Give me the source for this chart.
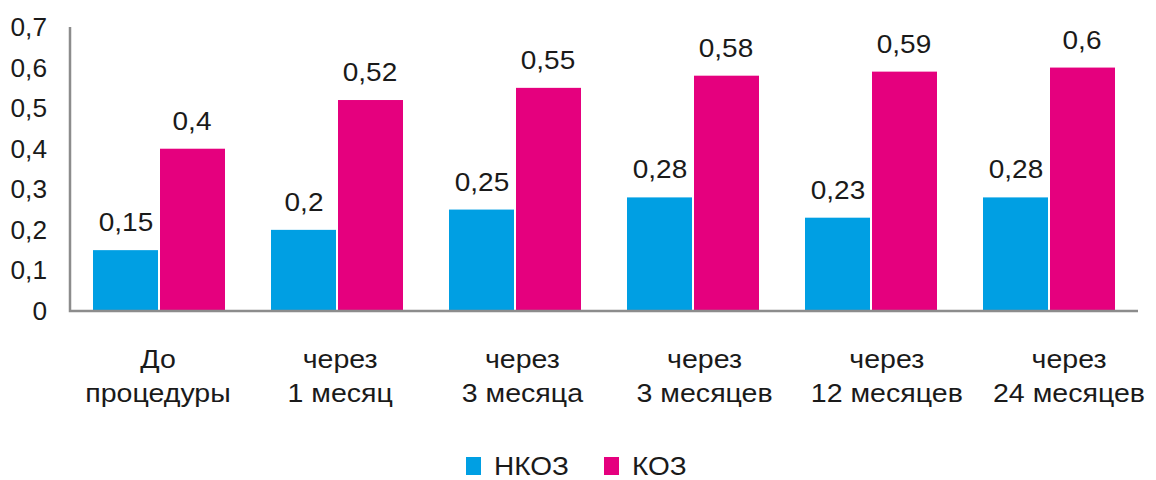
<!DOCTYPE html>
<html>
<head>
<meta charset="utf-8">
<script src="https://cdn.jsdelivr.net/npm/d3@7"></script>
<style>
  body { margin: 0; background: #fff; overflow: hidden; }
  svg { display: block; }
  svg text { font-family: "Liberation Sans", Arial, sans-serif; fill: #1a1a1a; }
</style>
</head>
<body>
<div id="chart"></div>
<script>
var categories = [
  ["До", "процедуры"],
  ["через", "1 месяц"],
  ["через", "3 месяца"],
  ["через", "3 месяцев"],
  ["через", "12 месяцев"],
  ["через", "24 месяцев"]
];
var seriesNames = ["НКОЗ", "КОЗ"];
var nkozValues = [0.15, 0.2, 0.25, 0.28, 0.23, 0.28];
var kozValues = [0.4, 0.52, 0.55, 0.58, 0.59, 0.6];
var yTicks = [0, 0.1, 0.2, 0.3, 0.4, 0.5, 0.6, 0.7];

var width = 1156,
  height = 480;
var margin = { top: 27, right: 18, bottom: 169, left: 70 };
var colors = ["#009fe3", "#e5007e"];
// the source text looks slightly stretched sideways
var stretch = 1.12;

var svg = d3
  .select("#chart")
  .append("svg")
  .attr("width", width)
  .attr("height", height);

var x = d3
  .scaleBand()
  .domain(d3.range(categories.length))
  .range([margin.left, width - margin.right]);

// category labels sit on a slightly wider spread than the bars
var xLabel = d3
  .scalePoint()
  .domain(d3.range(categories.length))
  .range([158, 1069]);

var y = d3
  .scaleLinear()
  .domain([0, 0.7])
  .range([height - margin.bottom, margin.top]);

var groupPad = 23;
var xInner = d3
  .scaleBand()
  .domain([0, 1])
  .range([groupPad, x.bandwidth() - groupPad]);

var fmt = function (v) {
  return String(v).replace(".", ",");
};

function placeText(sel, px, py, sx) {
  return sel.attr("transform", function (d, i) {
    return "translate(" + px(d, i) + "," + py(d, i) + ") scale(" + sx + ",1)";
  });
}

// y tick labels
var ticks = svg.append("g").selectAll("text").data(yTicks).enter().append("text")
  .attr("text-anchor", "end")
  .attr("font-size", "25px")
  .text(fmt);
placeText(ticks, function () { return 47; }, function (d) { return y(d) + 9; }, 1.05);

// bars
var series = [nkozValues, kozValues];
series.forEach(function (values, si) {
  var g = svg.append("g");
  g.selectAll("rect")
    .data(values)
    .enter()
    .append("rect")
    .attr("x", function (d, i) {
      return x(i) + xInner(si) + (si === 1 ? 1 : 0);
    })
    .attr("width", xInner.bandwidth() - 1)
    .attr("y", function (d) {
      return y(d);
    })
    .attr("height", function (d) {
      return y(0) - y(d);
    })
    .attr("fill", colors[si]);

  var labels = g.selectAll("text")
    .data(values)
    .enter()
    .append("text")
    .attr("text-anchor", "middle")
    .attr("font-size", "25px")
    .text(fmt);
  placeText(
    labels,
    function (d, i) { return x(i) + xInner(si) + xInner.bandwidth() / 2; },
    function (d) { return y(d) - 19; },
    stretch
  );
});

// axis lines
svg
  .append("path")
  .attr(
    "d",
    "M" + margin.left + "," + margin.top + "V" + y(0) + "H" + (width - margin.right)
  )
  .attr("fill", "none")
  .attr("stroke", "#8c8c8c")
  .attr("stroke-width", 2.5);

// category labels
var cat = svg
  .append("g")
  .selectAll("text")
  .data(categories)
  .enter()
  .append("text")
  .attr("text-anchor", "middle")
  .attr("font-size", "25.5px");
placeText(cat, function (d, i) { return xLabel(i); }, function () { return 368; }, stretch);
cat
  .selectAll("tspan")
  .data(function (d) {
    return d;
  })
  .enter()
  .append("tspan")
  .attr("x", 0)
  .attr("dy", function (d, i) {
    return i === 0 ? 0 : 34;
  })
  .text(function (d) {
    return d;
  });

// legend
var legendX = [466, 604];
var legend = svg
  .append("g")
  .selectAll("g")
  .data(seriesNames)
  .enter()
  .append("g")
  .attr("transform", function (d, i) {
    return "translate(" + legendX[i] + ",457)";
  });
legend
  .append("rect")
  .attr("width", 15)
  .attr("height", 18)
  .attr("fill", function (d, i) {
    return colors[i];
  });
legend
  .append("text")
  .attr("font-size", "25px")
  .attr("transform", "translate(28,18) scale(" + stretch + ",1)")
  .text(function (d) {
    return d;
  });
</script>
</body>
</html>
